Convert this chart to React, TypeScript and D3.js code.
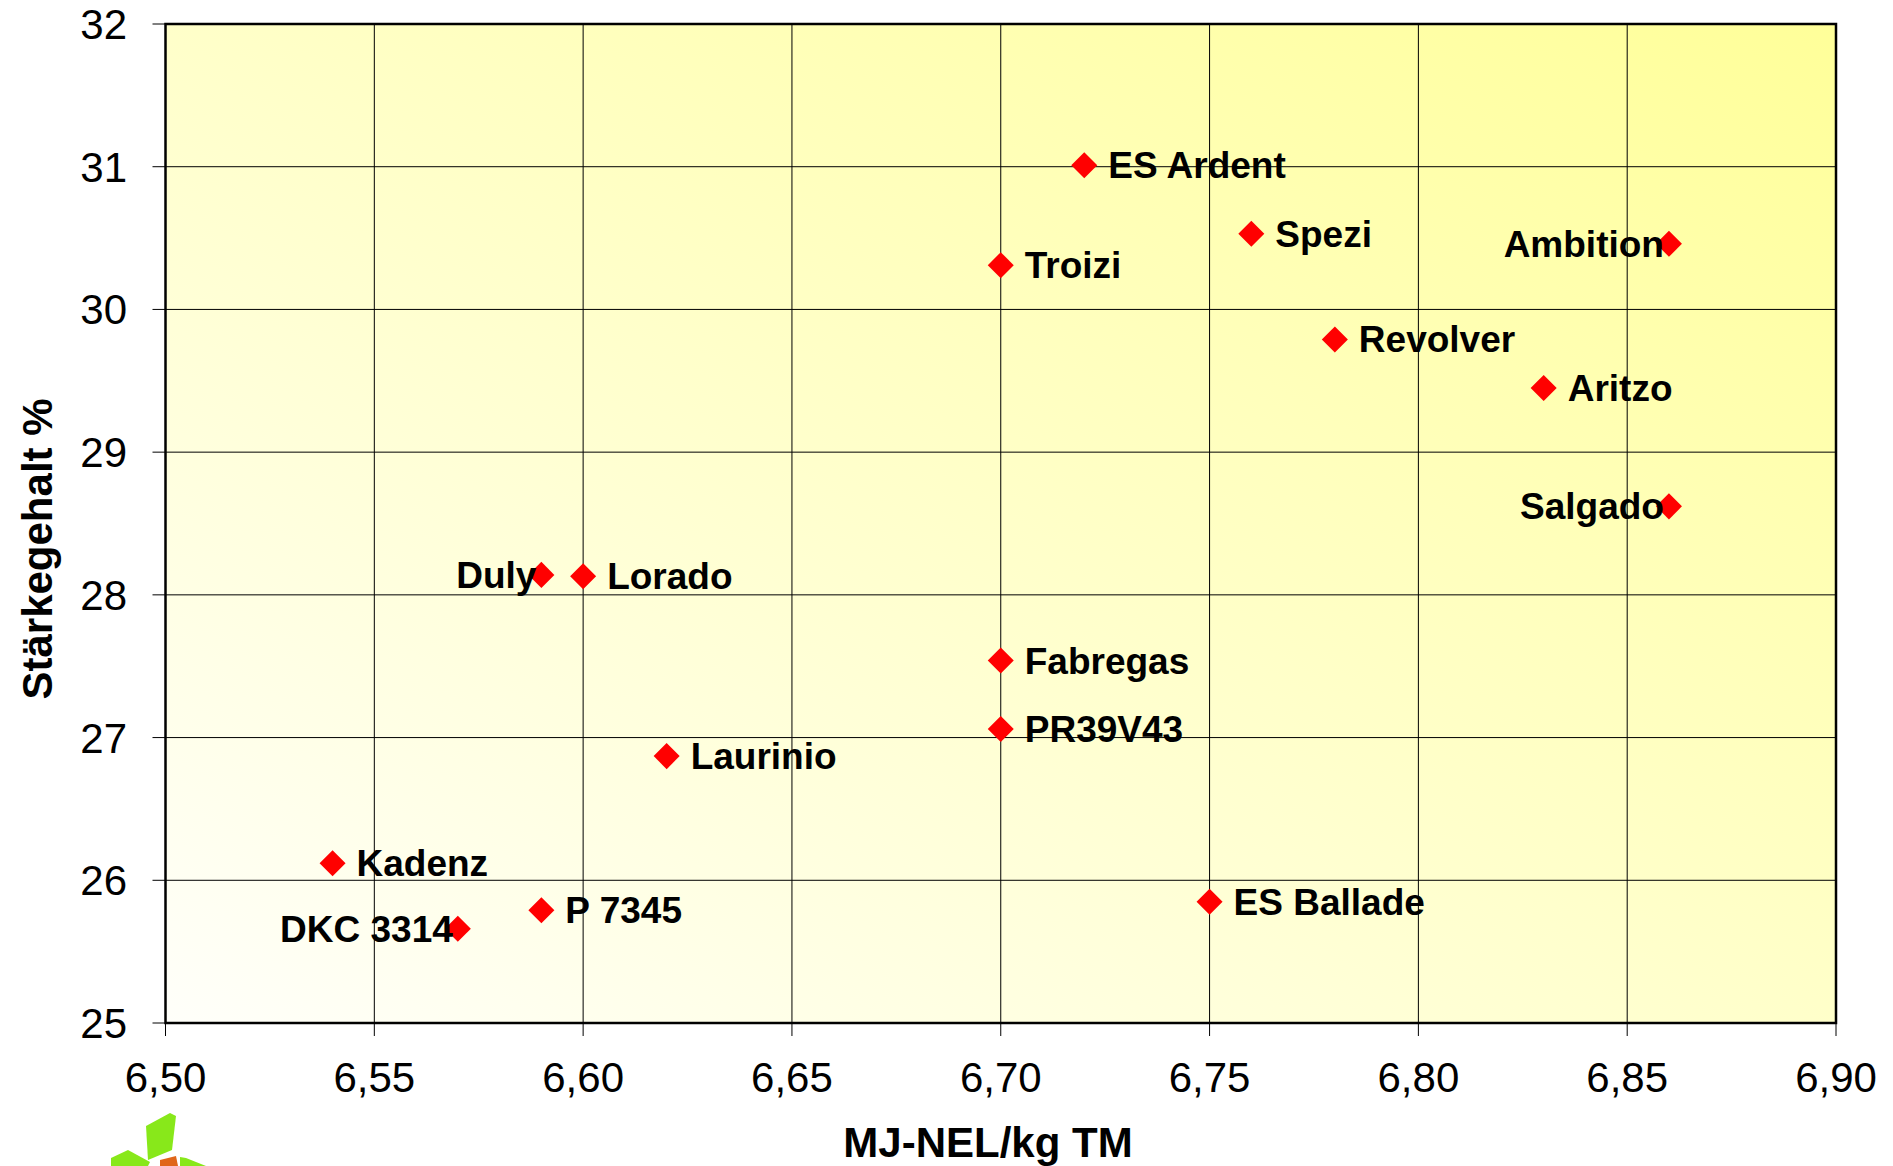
import React from "react";
import * as d3 from "d3";

const names = ["ES Ardent", "Spezi", "Troizi", "Ambition", "Revolver", "Aritzo", "Salgado", "Duly", "Lorado", "Fabregas", "PR39V43", "Laurinio", "Kadenz", "P 7345", "DKC 3314", "ES Ballade"];
const energy = [6.72, 6.76, 6.70, 6.86, 6.78, 6.83, 6.86, 6.59, 6.60, 6.70, 6.70, 6.62, 6.54, 6.59, 6.57, 6.75];
const starch = [31.01, 30.53, 30.31, 30.46, 29.79, 29.45, 28.62, 28.14, 28.13, 27.54, 27.06, 26.87, 26.12, 25.79, 25.66, 25.85];
const labelSide = ["right", "right", "right", "left", "right", "right", "left", "left", "right", "right", "right", "right", "right", "right", "left", "right"];
const xTicks = [6.5, 6.55, 6.6, 6.65, 6.7, 6.75, 6.8, 6.85, 6.9];
const yTicks = [25, 26, 27, 28, 29, 30, 31, 32];
const xTitle = "MJ-NEL/kg TM";
const yTitle = "Stärkegehalt %";

const W = 1893;
const H = 1166;
const left = 165.5;
const right = 1836;
const top = 24;
const bottom = 1023;
const FONT = "'Liberation Sans', Arial, Helvetica, sans-serif";

export default function App() {
  const x = d3.scaleLinear().domain([6.5, 6.9]).range([left, right]);
  const y = d3.scaleLinear().domain([25, 32]).range([bottom, top]);
  const fmt = (v: number) => d3.format(".2f")(v).replace(".", ",");
  const diamond = d3.symbol().type(d3.symbolSquare).size(18.4 * 18.4);

  return (
    <svg width={W} height={H} style={{ position: "absolute", left: 0, top: 0, background: "#fff" }} fontFamily={FONT}>
      <defs>
        <linearGradient id="bg" x1="0" y1="1" x2="1" y2="0">
          <stop offset="0" stopColor="#FFFFFA" />
          <stop offset="1" stopColor="#FFFF99" />
        </linearGradient>
      </defs>
      <rect x={left} y={top} width={right - left} height={bottom - top} fill="url(#bg)" />
      {xTicks.map((t) => (
        <line key={"gx" + t} x1={x(t)} x2={x(t)} y1={top} y2={bottom + 13} stroke="#000" strokeWidth={1} />
      ))}
      {yTicks.map((t) => (
        <line key={"gy" + t} x1={left - 13} x2={right} y1={y(t)} y2={y(t)} stroke="#000" strokeWidth={1} />
      ))}
      <rect x={left} y={top} width={right - left} height={bottom - top} fill="none" stroke="#000" strokeWidth={2.5} />
      {yTicks.map((t) => (
        <text key={"ty" + t} x={127} y={y(t) + 15} textAnchor="end" fontSize={42} fill="#000">
          {t}
        </text>
      ))}
      {xTicks.map((t) => (
        <text key={"tx" + t} x={x(t)} y={1091.7} textAnchor="middle" fontSize={42} fill="#000">
          {fmt(t)}
        </text>
      ))}
      <text x={988} y={1157} textAnchor="middle" fontSize={42} fontWeight="bold" fill="#000">
        {xTitle}
      </text>
      <text transform={`translate(52,549) rotate(-90)`} textAnchor="middle" fontSize={42} fontWeight="bold" fill="#000">
        {yTitle}
      </text>
      {names.map((n, i) => (
        <path
          key={"p" + n}
          d={diamond() as string}
          transform={`translate(${x(energy[i])},${y(starch[i])}) rotate(45)`}
          fill="#FF0000"
        />
      ))}
      {names.map((n, i) => {
        const isLeft = labelSide[i] === "left";
        return (
          <text
            key={"l" + n}
            x={x(energy[i]) + (isLeft ? -5 : 24)}
            y={y(starch[i]) + 13}
            textAnchor={isLeft ? "end" : "start"}
            fontSize={37}
            fontWeight="bold"
            fill="#000"
          >
            {n}
          </text>
        );
      })}
      <g>
        <path d="M146,1126 L170,1113 L176,1116 L172,1150 L148,1160 Z" fill="#88E81A" />
        <path d="M111,1158 L128,1150 L150,1162 L148,1166 L111,1166 Z" fill="#88E81A" />
        <path d="M160,1160 L176,1156 L178,1166 L160,1166 Z" fill="#E0661A" />
        <path d="M180,1157 L186,1158 L206,1166 L180,1166 Z" fill="#88E81A" />
      </g>
    </svg>
  );
}
